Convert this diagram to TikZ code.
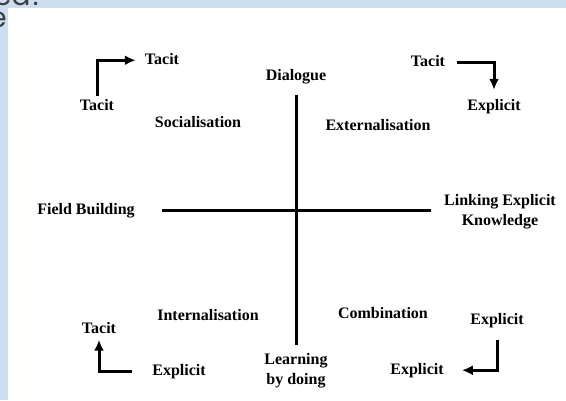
\documentclass[tikz,border=0pt]{standalone}
\usepackage{fontspec}
\setmainfont{Liberation Serif}
\newfontfamily\headfont{Poppins}
\usetikzlibrary{arrows.meta}
\definecolor{slidebg}{RGB}{204,223,240}
\definecolor{headgray}{RGB}{60,60,60}
\begin{document}
\begin{tikzpicture}[x=1pt,y=-1pt,
  lbl/.style={font=\bfseries\fontsize{16}{19}\selectfont, anchor=base,
    inner sep=3pt, text height=11pt, text depth=3.5pt},
  axis/.style={line width=3pt},
  flow/.style={line width=3pt, -{Latex[length=11pt,width=10pt]}},
  head/.style={font=\headfont\fontsize{28}{32}\selectfont, text=headgray, inner sep=0pt}]
\useasboundingbox (0,0) rectangle (566,400);
\clip (0,0) rectangle (566,400);
% slide backdrop and white panel
\fill[slidebg] (0,0) rectangle (566,400);
\fill[white] (8,8) rectangle (566,400);
% title fragment at the top edge
\node[head, anchor=base west] (ttl) at (-6,5) {ed?};
\node[head, anchor=base east] (ttl2) at (7,27) {e};

% axis labels
\node[lbl] (dlg) at (296,80) {Dialogue};
\node[lbl] (lrn) at (296,364) {Learning};
\node[lbl] (lrn2) at (296,384) {by doing};
\node[lbl] (fld) at (86,214) {Field Building};
\node[lbl] (lnk) at (500,205) {Linking Explicit};
\node[lbl] (lnk2) at (500,225) {Knowledge};

% quadrant labels
\node[lbl] (soc) at (198,127) {Socialisation};
\node[lbl] (ext) at (378,130) {Externalisation};
\node[lbl] (int) at (208,320) {Internalisation};
\node[lbl] (com) at (383,318) {Combination};

% corner conversions
\node[lbl] (tlA) at (97,110) {Tacit};
\node[lbl] (tlB) at (162,64) {Tacit};
\node[lbl] (trA) at (428,66) {Tacit};
\node[lbl] (trB) at (494,110) {Explicit};
\node[lbl] (blA) at (179,375) {Explicit};
\node[lbl] (blB) at (99,333) {Tacit};
\node[lbl] (brA) at (497,324) {Explicit};
\node[lbl] (brB) at (417,374) {Explicit};

% axes
\draw[axis, shorten <=8pt, shorten >=5pt] (dlg.south) -- (lrn.north);
\draw[axis, shorten <=24pt, shorten >=10pt] (fld.east) -- (fld.east -| lnk.west);

% conversion arrows
\draw[flow, shorten >=6pt] (tlA.north) |- (tlB.west);
\draw[flow, shorten <=9pt, shorten >=6pt] (trA.east) -| (trB.north);
\draw[flow, shorten <=17pt] (blA.west) -| (blB.south);
\draw[flow, shorten <=9pt, shorten >=15pt] (brA.south) |- (brB.east);
\end{tikzpicture}
\end{document}
